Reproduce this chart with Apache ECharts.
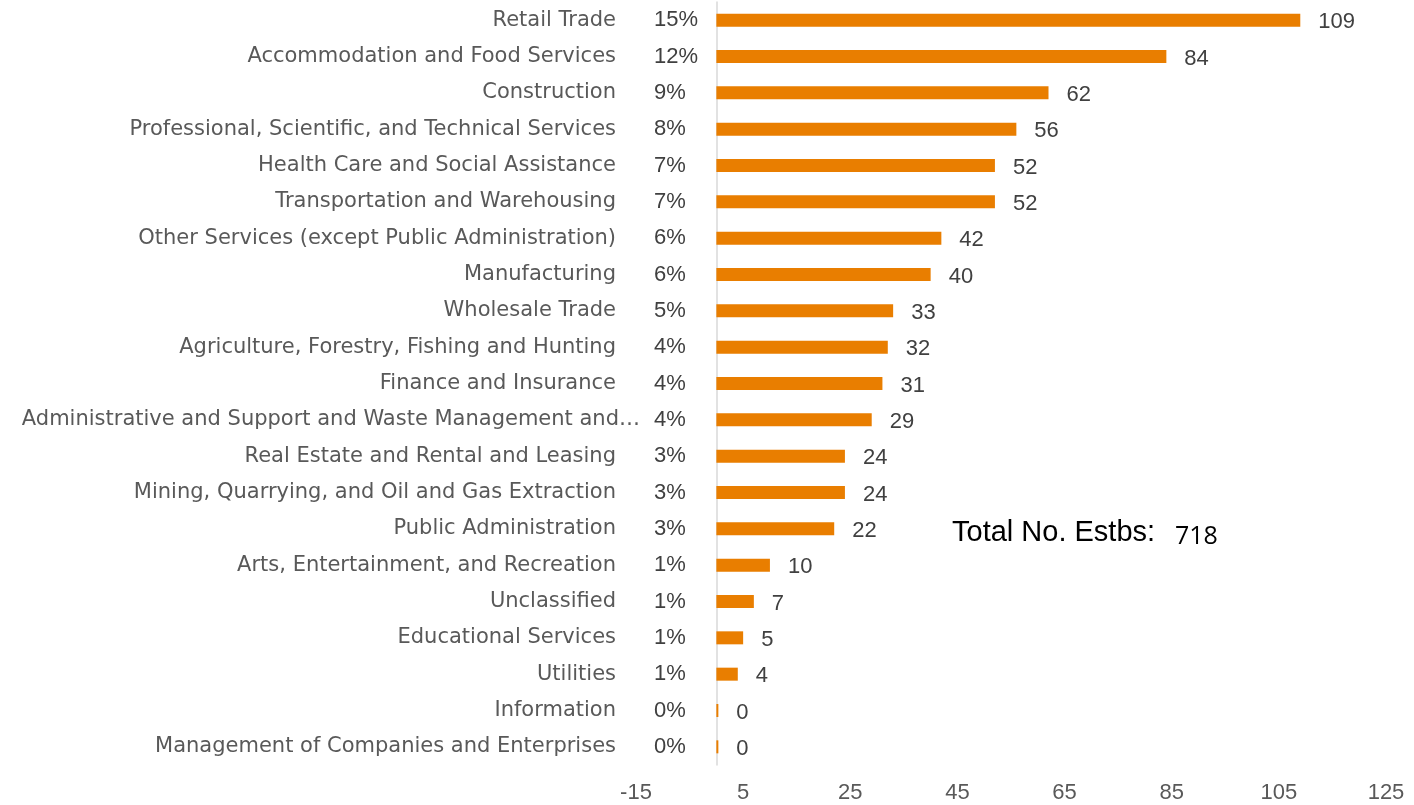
<!DOCTYPE html>
<html>
<head>
<meta charset="utf-8">
<script src="https://cdn.jsdelivr.net/npm/echarts@6/dist/echarts.min.js"></script>
<style>
  html, body { margin: 0; padding: 0; background: #ffffff; }
  #chart { width: 1414px; height: 805px; }
</style>
</head>
<body>
<div id="chart"></div>
<script>
const categories = [
  "Retail Trade",
  "Accommodation and Food Services",
  "Construction",
  "Professional, Scientific, and Technical Services",
  "Health Care and Social Assistance",
  "Transportation and Warehousing",
  "Other Services (except Public Administration)",
  "Manufacturing",
  "Wholesale Trade",
  "Agriculture, Forestry, Fishing and Hunting",
  "Finance and Insurance",
  "Administrative and Support and Waste Management and\u2026",
  "Real Estate and Rental and Leasing",
  "Mining, Quarrying, and Oil and Gas Extraction",
  "Public Administration",
  "Arts, Entertainment, and Recreation",
  "Unclassified",
  "Educational Services",
  "Utilities",
  "Information",
  "Management of Companies and Enterprises"
];
const values = [109, 84, 62, 56, 52, 52, 42, 40, 33, 32, 31, 29, 24, 24, 22, 10, 7, 5, 4, 0, 0];
const percentLabels = ["15%", "12%", "9%", "8%", "7%", "7%", "6%", "6%", "5%", "4%", "4%", "4%", "3%", "3%", "3%", "1%", "1%", "1%", "1%", "0%", "0%"];
const xTicks = { min: -15, max: 125, interval: 20 };
const totalLabel = "Total No. Estbs:";
const totalValue = "718";
const overflowingCategory = "Administrative and Support and Waste Management and\u2026";

const chart = echarts.init(document.getElementById('chart'), null, { renderer: 'canvas' });
const font = "'Liberation Sans', Arial, sans-serif";
const catFont = "'DejaVu Sans', sans-serif";

chart.setOption({
  animation: false,
  backgroundColor: '#ffffff',
  grid: { left: 636, right: 28, top: 2, bottom: 40, containLabel: false, outerBoundsMode: 'none' },
  xAxis: {
    type: 'value',
    min: xTicks.min,
    max: xTicks.max,
    interval: xTicks.interval,
    axisLine: { show: false },
    axisTick: { show: false },
    splitLine: { show: false },
    axisLabel: { fontSize: 22, color: '#595959', fontFamily: font, margin: 17 }
  },
  yAxis: [
    {
      type: 'category',
      inverse: true,
      data: categories,
      axisLine: { show: true, onZero: true, lineStyle: { color: '#D9D9D9', width: 1.5 } },
      axisTick: { show: false },
      axisLabel: {
        fontSize: 21, color: '#595959', fontFamily: catFont, margin: -4,
        formatter: function (v) {
          return v === overflowingCategory ? '{w|' + v + '}' : '{n|' + v + '}';
        },
        rich: {
          n: { fontSize: 21, color: '#595959', fontFamily: catFont, padding: [0, 24, 0, 0] },
          w: { fontSize: 21, color: '#595959', fontFamily: catFont, padding: [0, 0, 0, 0] }
        }
      }
    },
    {
      type: 'category',
      inverse: true,
      position: 'left',
      data: percentLabels,
      axisLine: { show: false, onZero: true },
      axisTick: { show: false },
      axisLabel: { fontSize: 22, color: '#404040', fontFamily: font, margin: -18, align: 'left', padding: [6, 0, 0, 0] }
    }
  ],
  series: [{
    type: 'bar',
    data: values,
    yAxisIndex: 0,
    barWidth: 13,
    barMinHeight: 2,
    itemStyle: { color: '#E97E00' },
    label: {
      show: true,
      position: 'right',
      distance: 18,
      fontSize: 22,
      color: '#404040',
      fontFamily: font,
      offset: [0, 2]
    }
  }],
  graphic: [
    {
      type: 'text',
      left: 952,
      top: 518,
      style: { text: totalLabel, fontSize: 29, fontFamily: font, fill: '#000000' }
    },
    {
      type: 'text',
      left: 1175,
      top: 524,
      style: { text: totalValue, fontSize: 25, fontFamily: "'Open Sans', sans-serif", fill: '#000000' }
    }
  ]
});
</script>
</body>
</html>
